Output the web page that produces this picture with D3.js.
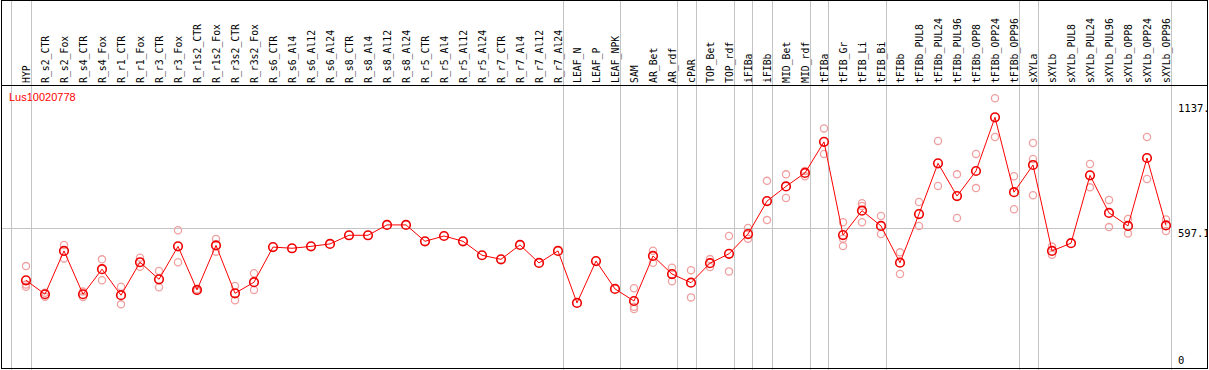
<!DOCTYPE html>
<html>
<head>
<meta charset="utf-8">
<script src="https://cdn.jsdelivr.net/npm/d3@7"></script>
<style>
  body { margin: 0; background: #fff; }
  svg { display: block; }
</style>
</head>
<body>
<div id="chart"></div>
<script>
const geneName = "Lus10020778";

const categories = ["HYP", "R_s2_CTR", "R_s2_Fox", "R_s4_CTR", "R_s4_Fox", "R_r1_CTR", "R_r1_Fox",
  "R_r3_CTR", "R_r3_Fox", "R_r1s2_CTR", "R_r1s2_Fox", "R_r3s2_CTR", "R_r3s2_Fox",
  "R_s6_CTR", "R_s6_Al4", "R_s6_Al12", "R_s6_Al24", "R_s8_CTR", "R_s8_Al4", "R_s8_Al12", "R_s8_Al24",
  "R_r5_CTR", "R_r5_Al4", "R_r5_Al12", "R_r5_Al24", "R_r7_CTR", "R_r7_Al4", "R_r7_Al12", "R_r7_Al24",
  "LEAF_N", "LEAF_P", "LEAF_NPK", "SAM", "AR_Bet", "AR_rdf", "cPAR", "TOP_Bet", "TOP_rdf",
  "iFIBa", "iFIBb", "MID_Bet", "MID_rdf", "tFIBa", "tFIB_Gr", "tFIB_Li", "tFIB_Bi", "tFIBb",
  "tFIBb_PUL8", "tFIBb_PUL24", "tFIBb_PUL96", "tFIBb_OPP8", "tFIBb_OPP24", "tFIBb_OPP96",
  "sXYLa", "sXYLb", "sXYLb_PUL8", "sXYLb_PUL24", "sXYLb_PUL96", "sXYLb_OPP8", "sXYLb_OPP24", "sXYLb_OPP96"];

// mean expression per sample
const means = [381, 323, 503, 323, 427, 319, 456, 385, 522, 341, 526, 327, 373,
  519, 514, 522, 532, 568, 568, 611, 611,
  543, 565, 543, 485, 468, 528, 453, 503,
  287, 461, 345, 295, 482, 407, 371, 452, 491,
  573, 710, 771, 827, 956, 569, 670, 607, 454,
  656, 867, 731, 835, 1058, 747,
  860, 503, 535, 817, 661, 607, 889, 609];

// visible replicate values per sample
const replicates = [[440, 363, 354], [329, 313], [528, 472], [334, 312], [468, 381], [354, 281], [475, 437],
  [420, 352], [589, 456], [344, 336], [553, 500], [357, 298], [410, 341],
  [], [], [], [], [], [], [], [],
  [], [], [], [], [], [], [], [],
  [], [], [], [348, 271, 262], [504, 454], [433, 377], [423, 310], [469, 436], [565, 418],
  [598, 554], [794, 631], [821, 723], [835, 813], [1012, 906], [622, 554, 523], [701, 690, 622], [648, 573], [497, 407],
  [706, 607], [960, 773], [821, 640], [906, 764], [1137, 976], [813, 676],
  [951, 885, 734], [521, 487], [], [864, 767], [715, 602], [636, 575], [976, 802], [634, 586]];

// group separators: drawn after these samples ("" = before the first one)
const separatorsAfter = ["", "HYP", "R_r7_Al24", "LEAF_NPK", "AR_rdf", "cPAR", "TOP_rdf", "iFIBa", "iFIBb",
  "MID_rdf", "tFIBa", "tFIB_Bi", "tFIBb_OPP96", "sXYLa", "sXYLb_OPP96"];

const yTicks = [{ v: 1137, label: "1137.", dy: 111.5 }, { v: 597.1, label: "597.1", dy: 236.5 }, { v: 0, label: "0", dy: 364 }];

const width = 1209, height = 370;
const headerBottom = 85;

const svg = d3.select("#chart").append("svg")
  .attr("width", width)
  .attr("height", height);

const x = d3.scaleLinear().domain([0, categories.length - 1]).range([26, 1166]);
const y = d3.scaleLinear().domain([0, 1137]).range([372, 98.3]);

// vertical group lines
svg.append("g")
  .selectAll("line")
  .data(separatorsAfter)
  .join("line")
  .attr("x1", d => Math.round(x(categories.indexOf(d)) + 4.5) + 0.5)
  .attr("x2", d => Math.round(x(categories.indexOf(d)) + 4.5) + 0.5)
  .attr("y1", 0).attr("y2", height)
  .attr("stroke", "#c4c4c4")
  .attr("shape-rendering", "crispEdges");

// horizontal grid line at mid tick
svg.append("line")
  .attr("x1", 1).attr("x2", 1170)
  .attr("y1", Math.round(y(597.1)) + 0.5).attr("y2", Math.round(y(597.1)) + 0.5)
  .attr("stroke", "#c4c4c4")
  .attr("shape-rendering", "crispEdges");

// frame and header line
svg.append("rect")
  .attr("x", 1.5).attr("y", 0.5)
  .attr("width", 1206).attr("height", 368)
  .attr("fill", "none").attr("stroke", "#000")
  .attr("shape-rendering", "crispEdges");
svg.append("line")
  .attr("x1", 1).attr("x2", 1208)
  .attr("y1", headerBottom + 0.5).attr("y2", headerBottom + 0.5)
  .attr("stroke", "#000")
  .attr("shape-rendering", "crispEdges");

// sample labels
svg.append("g")
  .selectAll("text")
  .data(categories)
  .join("text")
  .attr("transform", (d, i) => `translate(${x(i) + 4},${headerBottom - 2}) rotate(-90)`)
  .attr("font-family", "DejaVu Sans Mono")
  .attr("font-size", 9.8)
  .attr("fill", "#000")
  .text(d => d);

// gene name
svg.append("text")
  .attr("x", 9).attr("y", 101)
  .attr("font-family", "Liberation Sans")
  .attr("font-size", 11)
  .attr("fill", "#ff0000")
  .text(geneName);

// right axis labels
const clip = svg.append("clipPath").attr("id", "frameClip")
  .append("rect").attr("x", 0).attr("y", 0).attr("width", 1207).attr("height", height);
svg.append("g")
  .attr("clip-path", "url(#frameClip)")
  .selectAll("text")
  .data(yTicks)
  .join("text")
  .attr("x", 1178)
  .attr("y", d => d.dy)
  .attr("font-family", "DejaVu Sans Mono")
  .attr("font-size", 10.5)
  .attr("fill", "#000")
  .text(d => d.label);

// replicate points
const repData = [];
replicates.forEach((reps, i) => reps.forEach(v => repData.push({ i, v })));
svg.append("g")
  .selectAll("circle")
  .data(repData)
  .join("circle")
  .attr("cx", d => x(d.i))
  .attr("cy", d => y(d.v))
  .attr("r", 3.6)
  .attr("fill", "none")
  .attr("stroke", "#f0a0a0")
  .attr("stroke-width", 1.3);

// mean line
svg.append("path")
  .datum(means)
  .attr("d", d3.line().x((d, i) => x(i)).y(d => y(d)))
  .attr("fill", "none")
  .attr("stroke", "#ff0000")
  .attr("stroke-width", 1);

// mean points
svg.append("g")
  .selectAll("circle")
  .data(means)
  .join("circle")
  .attr("cx", (d, i) => x(i))
  .attr("cy", d => y(d))
  .attr("r", 4.3)
  .attr("fill", "none")
  .attr("stroke", "#ee0000")
  .attr("stroke-width", 1.6);
</script>
</body>
</html>
